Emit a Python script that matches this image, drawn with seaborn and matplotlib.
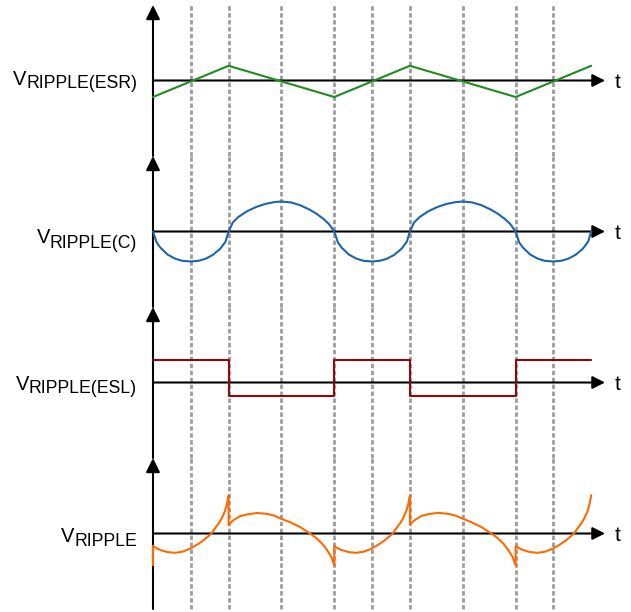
import matplotlib
matplotlib.use("Agg")
import matplotlib.pyplot as plt
import seaborn as sns
import pandas as pd

# ---------------- data (time in switching periods, ripple in arbitrary units) ----------------
event_times = [0.208, 0.417, 0.708, 1.0, 1.208, 1.417, 1.708, 2.0, 2.208]

esr_t = [0, 0.417, 1.0, 1.417, 2.0, 2.417]
esr_v = [-16.5, 14.7, -16.5, 14.7, -16.5, 14.7]

c_t = [0, 0.02, 0.04, 0.08, 0.12, 0.16, 0.208, 0.25, 0.29, 0.33, 0.37, 0.40, 0.417,
       0.44, 0.47, 0.52, 0.57, 0.62, 0.67, 0.708, 0.76, 0.81, 0.86, 0.90, 0.94, 0.97, 1.0,
       1.02, 1.04, 1.08, 1.12, 1.16, 1.208, 1.25, 1.29, 1.33, 1.37, 1.40, 1.417,
       1.44, 1.47, 1.52, 1.57, 1.62, 1.67, 1.708, 1.76, 1.81, 1.86, 1.90, 1.94, 1.97, 2.0,
       2.02, 2.04, 2.08, 2.12, 2.16, 2.208, 2.25, 2.29, 2.33, 2.37, 2.40, 2.417]
c_v = [0, -11, -16, -23, -27, -29.3, -30, -29.3, -27.3, -23.4, -17.4, -10.2, 0,
       9, 14.4, 20.4, 24.6, 27.6, 29.4, 30, 29.1, 26.4, 22.2, 18, 12.6, 7.5, 0,
       -11, -16, -23, -27, -29.3, -30, -29.3, -27.3, -23.4, -17.4, -10.2, 0,
       9, 14.4, 20.4, 24.6, 27.6, 29.4, 30, 29.1, 26.4, 22.2, 18, 12.6, 7.5, 0,
       -11, -16, -23, -27, -29.3, -30, -29.3, -27.3, -23.4, -17.4, -10.2, 0]

esl_t = [0, 0.417, 1.0, 1.417, 2.0, 2.417]
esl_v = [22.3, -13.0, 22.3, -13.0, 22.3, 22.3]

tot_t = [0, 0, 0.02, 0.04, 0.08, 0.12, 0.16, 0.204, 0.24, 0.273, 0.31, 0.322, 0.345, 0.364,
         0.38, 0.397, 0.408, 0.417, 0.417, 0.443, 0.48, 0.517, 0.572, 0.627, 0.67, 0.706,
         0.756, 0.811, 0.866, 0.90, 0.932, 0.96, 0.982, 1.0,
         1.0, 1.02, 1.04, 1.08, 1.12, 1.16, 1.204, 1.24, 1.273, 1.31, 1.322, 1.345, 1.364,
         1.38, 1.397, 1.408, 1.417, 1.417, 1.443, 1.48, 1.517, 1.572, 1.627, 1.67, 1.706,
         1.756, 1.811, 1.866, 1.90, 1.932, 1.96, 1.982, 2.0,
         2.0, 2.02, 2.04, 2.08, 2.12, 2.16, 2.204, 2.24, 2.273, 2.31, 2.322, 2.345, 2.364,
         2.38, 2.397, 2.408, 2.417]
tot_v = [-31.7, -12.5, -14.8, -16.5, -18.6, -19.3, -18.3, -15.3, -11.5, -7.5, -2, 0, 6, 10.5,
         15.5, 22.5, 29.5, 38, 8.5, 13.3, 17.3, 19, 20.5, 19.7, 17.8, 14.8,
         11.3, 6.5, 0, -4.5, -10, -16.5, -23, -31.7,
         -12.7, -14.8, -16.5, -18.6, -19.3, -18.3, -15.3, -11.5, -7.5, -2, 0, 6, 10.5,
         15.5, 22.5, 29.5, 37.7, 9.3, 13.3, 17.5, 19.3, 20.7, 19.7, 17.8, 15,
         11.3, 6.5, 0, -4.5, -10, -16.5, -23, -31.7,
         -12.7, -14.8, -16.5, -18.6, -19.3, -18.3, -15.3, -11.5, -7.5, -2, 0, 6, 10.5,
         15.5, 22.5, 29.5, 38.3]

sub_labels = ["RIPPLE(ESR)", "RIPPLE(C)", "RIPPLE(ESL)", "RIPPLE"]
series_colors = ["#1e8c1e", "#1f64aa", "#8c0a0a", "#ff6a00"]
axis_label = "t"

# ---------------- figure ----------------
sns.set_theme(style="white")
plt.rcParams["font.family"] = ["Liberation Sans", "DejaVu Sans"]

W, H = 631, 612
fig = plt.figure(figsize=(W / 100, H / 100), dpi=100)
fig.patch.set_facecolor("white")

series = [
    (pd.DataFrame({"t": esr_t, "v": esr_v}), {}),
    (pd.DataFrame({"t": c_t, "v": c_v}), {}),
    (pd.DataFrame({"t": esl_t, "v": esl_v}), {"drawstyle": "steps-post"}),
    (pd.DataFrame({"t": tot_t, "v": tot_v}), {}),
]

X_LEFT, X_RIGHT = 153, 605
XMAX = 2.493
PANEL_H = 151
TOP0 = 5
v_baselines = [85, 242.7, 390, 541.7]
sub_drop = [3.3, 5.6, 3.3, 4.0]

hv_arrow = dict(arrowstyle="-|>,head_length=0.75,head_width=0.38", lw=1.5,
                color="black", shrinkA=0, shrinkB=0, mutation_scale=10)
vv_arrow = dict(arrowstyle="-|>,head_length=0.85,head_width=0.42", lw=1.5,
                color="black", shrinkA=0, shrinkB=0, mutation_scale=10)

sub_texts = []
for i, ((df, kw), col) in enumerate(zip(series, series_colors)):
    top = TOP0 + PANEL_H * i
    ax = fig.add_axes([X_LEFT / W, 1 - (top + PANEL_H) / H,
                       (X_RIGHT - X_LEFT) / W, PANEL_H / H])
    ax.set_xlim(0, XMAX)
    ax.set_ylim(-75.5, 75.5)
    ax.axis("off")

    for e in event_times:
        ax.axvline(e, color="#9c9c9c", lw=2.0, ls=(0, (1.6, 0.9)), zorder=1)

    ax.annotate("", xy=(XMAX, 0), xytext=(0, 0), arrowprops=hv_arrow,
                annotation_clip=False, zorder=3)
    tr = ax.get_xaxis_transform()
    ax.annotate("", xy=(0, 1), xytext=(0, 0), xycoords=tr, textcoords=tr,
                arrowprops=vv_arrow, annotation_clip=False, zorder=3)

    sns.lineplot(data=df, x="t", y="v", ax=ax, color=col, lw=1.5,
                 estimator=None, sort=False, legend=False, zorder=4, **kw)
    for ln in ax.lines:
        ln.set_clip_on(False)

    zero_y = top + PANEL_H / 2
    fig.text(615 / W, 1 - (zero_y + 7.5) / H, axis_label, ha="left",
             va="baseline", fontsize=15, color="black")

    st = fig.text(137 / W, 1 - (v_baselines[i] + sub_drop[i]) / H, sub_labels[i],
                  ha="right", va="baseline", fontsize=12.7, color="black")
    sub_texts.append(st)

fig.canvas.draw()
renderer = fig.canvas.get_renderer()
for i, st in enumerate(sub_texts):
    bb = st.get_window_extent(renderer=renderer)
    fig.text((bb.x0 + 0.5) / W, 1 - v_baselines[i] / H, "V", ha="right",
             va="baseline", fontsize=14.5, color="black")

fig.savefig("out.png", dpi=100, facecolor="white")
